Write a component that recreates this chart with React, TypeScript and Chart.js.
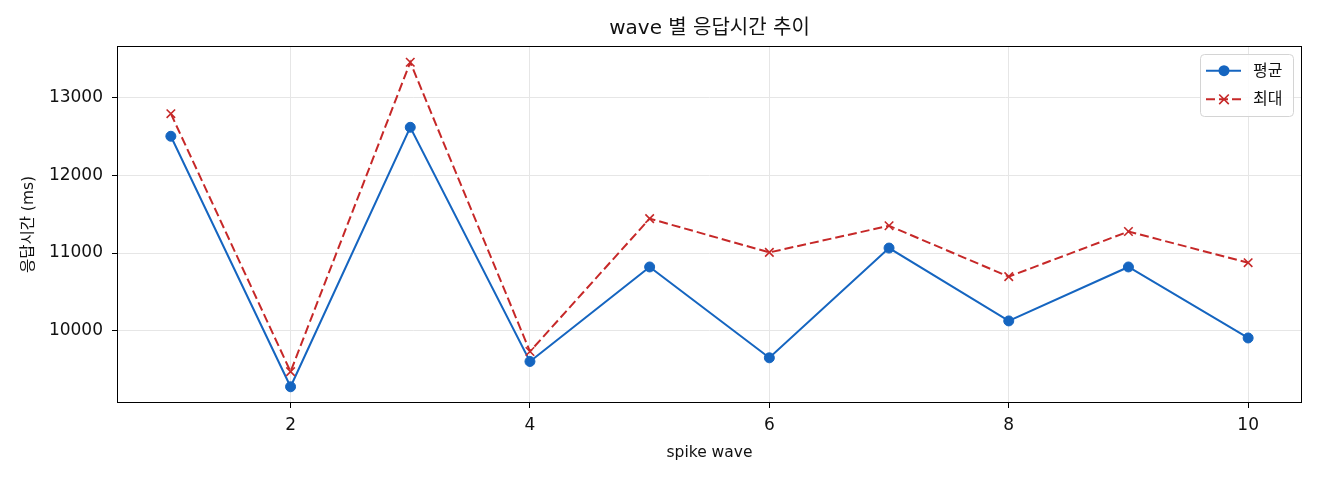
import { useEffect, useRef } from "react";
import { Chart, registerables } from "chart.js";

Chart.register(...registerables);

const FONT = "'DejaVu Sans', 'Noto Sans CJK KR', sans-serif";
const TEXT = "#111";
const GRID = "#e6e6e6";
const BLUE = "#1565c0";
const RED = "#c62828";

const waves = [1, 2, 3, 4, 5, 6, 7, 8, 9, 10];
const avgMs = [12500, 9282, 12615, 9607, 10821, 9654, 11064, 10128, 10821, 9909];
const maxMs = [12790, 9476, 13451, 9735, 11442, 11008, 11350, 10697, 11276, 10876];
const xTicks = [2, 4, 6, 8, 10];
const yTicks = [10000, 11000, 12000, 13000];
const names = ["평균", "최대"];

// matplotlib-style 5% margins
const allVals = [...avgMs, ...maxMs];
const yLo = Math.min(...allVals);
const yHi = Math.max(...allVals);
const yPad = (yHi - yLo) * 0.05;
const xPad = (waves[waves.length - 1] - waves[0]) * 0.05;

const framePlugin = {
  id: "frame",
  afterDatasetsDraw(chart: Chart) {
    const { ctx, chartArea: a } = chart;
    ctx.save();
    ctx.strokeStyle = "#000";
    ctx.lineWidth = 1;
    ctx.strokeRect(a.left + 0.5, a.top + 0.5, a.right - a.left - 1, a.bottom - a.top - 1);
    ctx.restore();
  },
};

const legendPlugin = {
  id: "mplLegend",
  afterDraw(chart: Chart) {
    const { ctx, chartArea: a } = chart;
    const x0 = a.right - 102;
    const y0 = a.top + 8;
    ctx.save();
    ctx.beginPath();
    ctx.roundRect(x0 + 0.5, y0 + 0.5, 93, 62, 4);
    ctx.fillStyle = "rgba(255,255,255,0.85)";
    ctx.fill();
    ctx.strokeStyle = "#d4d4d4";
    ctx.lineWidth = 1;
    ctx.stroke();
    chart.data.datasets.forEach((ds: any, i: number) => {
      const cy = y0 + 16.7 + i * 28.6;
      ctx.strokeStyle = ds.borderColor;
      ctx.lineWidth = ds.borderWidth;
      ctx.setLineDash(ds.borderDash || []);
      ctx.beginPath();
      ctx.moveTo(x0 + 6, cy);
      ctx.lineTo(x0 + 41, cy);
      ctx.stroke();
      ctx.setLineDash([]);
      const mx = x0 + 24;
      if (ds.pointStyle === "circle") {
        ctx.fillStyle = ds.backgroundColor;
        ctx.beginPath();
        ctx.arc(mx, cy, ds.pointRadius + 0.5, 0, Math.PI * 2);
        ctx.fill();
      } else {
        const r = ds.pointRadius * 0.8;
        ctx.lineWidth = ds.pointBorderWidth;
        ctx.beginPath();
        ctx.moveTo(mx - r, cy - r);
        ctx.lineTo(mx + r, cy + r);
        ctx.moveTo(mx - r, cy + r);
        ctx.lineTo(mx + r, cy - r);
        ctx.stroke();
      }
      ctx.fillStyle = TEXT;
      ctx.font = `16px ${FONT}`;
      ctx.textBaseline = "middle";
      ctx.textAlign = "left";
      ctx.fillText(ds.label, x0 + 53, cy + 1);
    });
    ctx.restore();
  },
};

export default function App() {
  const ref = useRef<HTMLCanvasElement>(null);

  useEffect(() => {
    if (!ref.current) return;
    const chart = new Chart(ref.current, {
      type: "line",
      data: {
        datasets: [
          {
            label: names[0],
            data: waves.map((w, i) => ({ x: w, y: avgMs[i] })),
            borderColor: BLUE,
            backgroundColor: BLUE,
            borderWidth: 2,
            pointStyle: "circle",
            pointRadius: 5,
            pointBorderWidth: 1,
            pointBorderColor: BLUE,
            pointBackgroundColor: BLUE,
            order: 1,
          },
          {
            label: names[1],
            data: waves.map((w, i) => ({ x: w, y: maxMs[i] })),
            borderColor: RED,
            backgroundColor: RED,
            borderWidth: 2,
            borderDash: [9, 4],
            pointStyle: "crossRot",
            pointRadius: 6,
            pointBorderWidth: 1.6,
            pointBorderColor: RED,
            order: 0,
          },
        ],
      },
      options: {
        animation: false,
        responsive: false,
        devicePixelRatio: 1,
        layout: { padding: { top: 0, right: 18, bottom: 0, left: 0 } },
        plugins: {
          legend: { display: false },
          tooltip: { enabled: false },
          title: {
            display: true,
            text: "wave 별 응답시간 추이",
            fullSize: false,
            color: TEXT,
            font: { family: FONT, size: 20, weight: "normal" },
            padding: { top: 17, bottom: 5 },
          },
        },
        scales: {
          x: {
            type: "linear",
            min: waves[0] - xPad,
            max: waves[waves.length - 1] + xPad,
            afterBuildTicks: (s: any) => {
              s.ticks = xTicks.map((v) => ({ value: v }));
            },
            afterFit: (s: any) => {
              s.height = 77;
            },
            border: { display: false },
            grid: { color: GRID, tickColor: "#000", tickLength: 5, lineWidth: 1 },
            ticks: { font: { family: FONT, size: 17 }, color: TEXT, padding: 7, autoSkip: false, maxRotation: 0, callback: (v: any) => String(v) },
            title: { display: true, text: "spike wave", color: TEXT, font: { family: FONT, size: 15.5 }, padding: { top: 0, bottom: 18 } },
          },
          y: {
            min: yLo - yPad,
            max: yHi + yPad,
            afterBuildTicks: (s: any) => {
              s.ticks = yTicks.map((v) => ({ value: v }));
            },
            afterFit: (s: any) => {
              s.width = 117;
            },
            border: { display: false },
            grid: { color: GRID, tickColor: "#000", tickLength: 5, lineWidth: 1 },
            ticks: { font: { family: FONT, size: 17 }, color: TEXT, padding: 9, autoSkip: false, callback: (v: any) => String(v) },
            title: { display: true, text: "응답시간 (ms)", color: TEXT, font: { family: FONT, size: 15.5 }, padding: { top: 20, bottom: 0 } },
          },
        },
      },
      plugins: [framePlugin, legendPlugin],
    });
    return () => chart.destroy();
  }, []);

  return (
    <div style={{ position: "fixed", left: 0, top: 0, width: 1320, height: 480, background: "#fff" }}>
      <canvas ref={ref} width={1320} height={480} />
    </div>
  );
}
